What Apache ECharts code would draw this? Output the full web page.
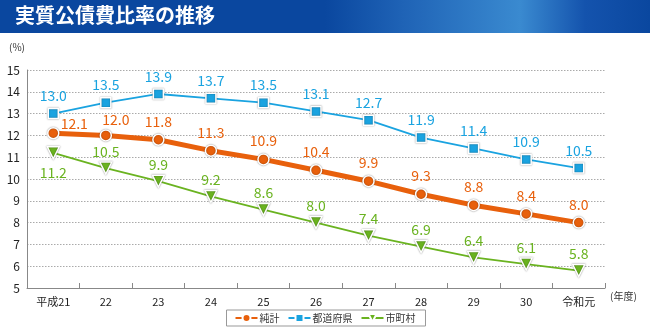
<!DOCTYPE html>
<html><head><meta charset="utf-8">
<script src="https://cdn.jsdelivr.net/npm/echarts@6/dist/echarts.min.js"></script>
<style>html,body{margin:0;padding:0;background:#fff}#c{width:650px;height:328px}</style>
</head><body><div id="c"></div>
<script>
const categories = ['平成21','22','23','24','25','26','27','28','29','30','令和元'];
const total = [12.1,12.0,11.8,11.3,10.9,10.4,9.9,9.3,8.8,8.4,8.0];
const prefectures = [13.0,13.5,13.9,13.7,13.5,13.1,12.7,11.9,11.4,10.9,10.5];
const municipalities = [11.2,10.5,9.9,9.2,8.6,8.0,7.4,6.9,6.4,6.1,5.8];
const seriesNames = ['純計','都道府県','市町村'];
const titleText = '実質公債費比率の推移';

const font = '"Noto Sans CJK JP","Noto Sans",sans-serif';
const chart = echarts.init(document.getElementById('c'));
const markerStyle = c => ({color:c, borderColor:'#fff', borderWidth:1.5, shadowColor:'rgba(0,0,0,0.45)', shadowBlur:1.5});
const fmt = p => Number(p.value).toFixed(1);
chart.setOption({
  animation:false,
  textStyle:{fontFamily:font},
  graphic:[
    {type:'rect', shape:{x:0,y:0,width:650,height:33}, style:{fill:new echarts.graphic.LinearGradient(0,0,1,0,[{offset:0,color:'#0a479f'},{offset:0.5,color:'#0a479f'},{offset:0.62,color:'#1f63b6'},{offset:0.8,color:'#3a8ad0'},{offset:0.9,color:'#1453ad'},{offset:1,color:'#0a479f'}])}, z:-1},
    {type:'text', left:15, top:5, style:{text:titleText, fill:'#fff', font:'bold 20px '+font}},
    {type:'text', left:9, top:42, style:{text:'(%)', fill:'#333', font:'10px '+font}},
    {type:'text', left:610, top:291, style:{text:'(年度)', fill:'#333', font:'10px '+font}}
  ],
  grid:{left:27, right:45, top:70, bottom:40, containLabel:false},
  legend:{
    bottom:2, left:'center', itemWidth:22, itemHeight:10, itemGap:8,
    borderColor:'#999', borderWidth:1, padding:[3,10,3,8],
    textStyle:{fontSize:10, color:'#333', fontFamily:font, padding:[0,0,0,-3]},
    data:seriesNames
  },
  xAxis:{
    type:'category', data:categories, boundaryGap:true,
    axisLine:{lineStyle:{color:'#888'}},
    axisTick:{show:true, inside:true, length:5, lineStyle:{color:'#888'}},
    axisLabel:{color:'#222', fontSize:11, margin:8}
  },
  yAxis:{
    type:'value', min:5, max:15, interval:1,
    axisLine:{show:true, lineStyle:{color:'#888'}},
    axisTick:{show:false},
    axisLabel:{color:'#222', fontSize:12, margin:7},
    splitLine:{lineStyle:{color:'#aaa', type:[1.5,1.5], width:1}}
  },
  series:[
    {name:seriesNames[1], type:'line', data:prefectures, symbol:'rect', symbolSize:10,
     lineStyle:{color:'#1aa3e0', width:1.8}, itemStyle:markerStyle('#1aa3e0'),
     label:{show:true, position:'top', distance:5, color:'#1aa3e0', fontSize:14, formatter:fmt}, z:3},
    {name:seriesNames[0], type:'line', data:total, symbol:'circle', symbolSize:11,
     lineStyle:{color:'#e8600c', width:5}, itemStyle:markerStyle('#e8600c'),
     label:{show:true, position:'top', distance:5, color:'#e8600c', fontSize:14, formatter:fmt},
     labelLayout:p=>p.dataIndex===0?{dx:21, dy:9}:(p.dataIndex===1?{dx:10, dy:3}:{}), z:4},
    {name:seriesNames[2], type:'line',
     data:municipalities.map((v,i)=>i===0?{value:v, label:{position:'bottom', distance:6}}:v),
     symbol:'triangle', symbolRotate:180, symbolSize:12,
     lineStyle:{color:'#6ab320', width:1.8}, itemStyle:markerStyle('#6ab320'),
     label:{show:true, position:'top', distance:3, color:'#6ab320', fontSize:14, formatter:fmt}, z:3}
  ]
});
</script></body></html>
